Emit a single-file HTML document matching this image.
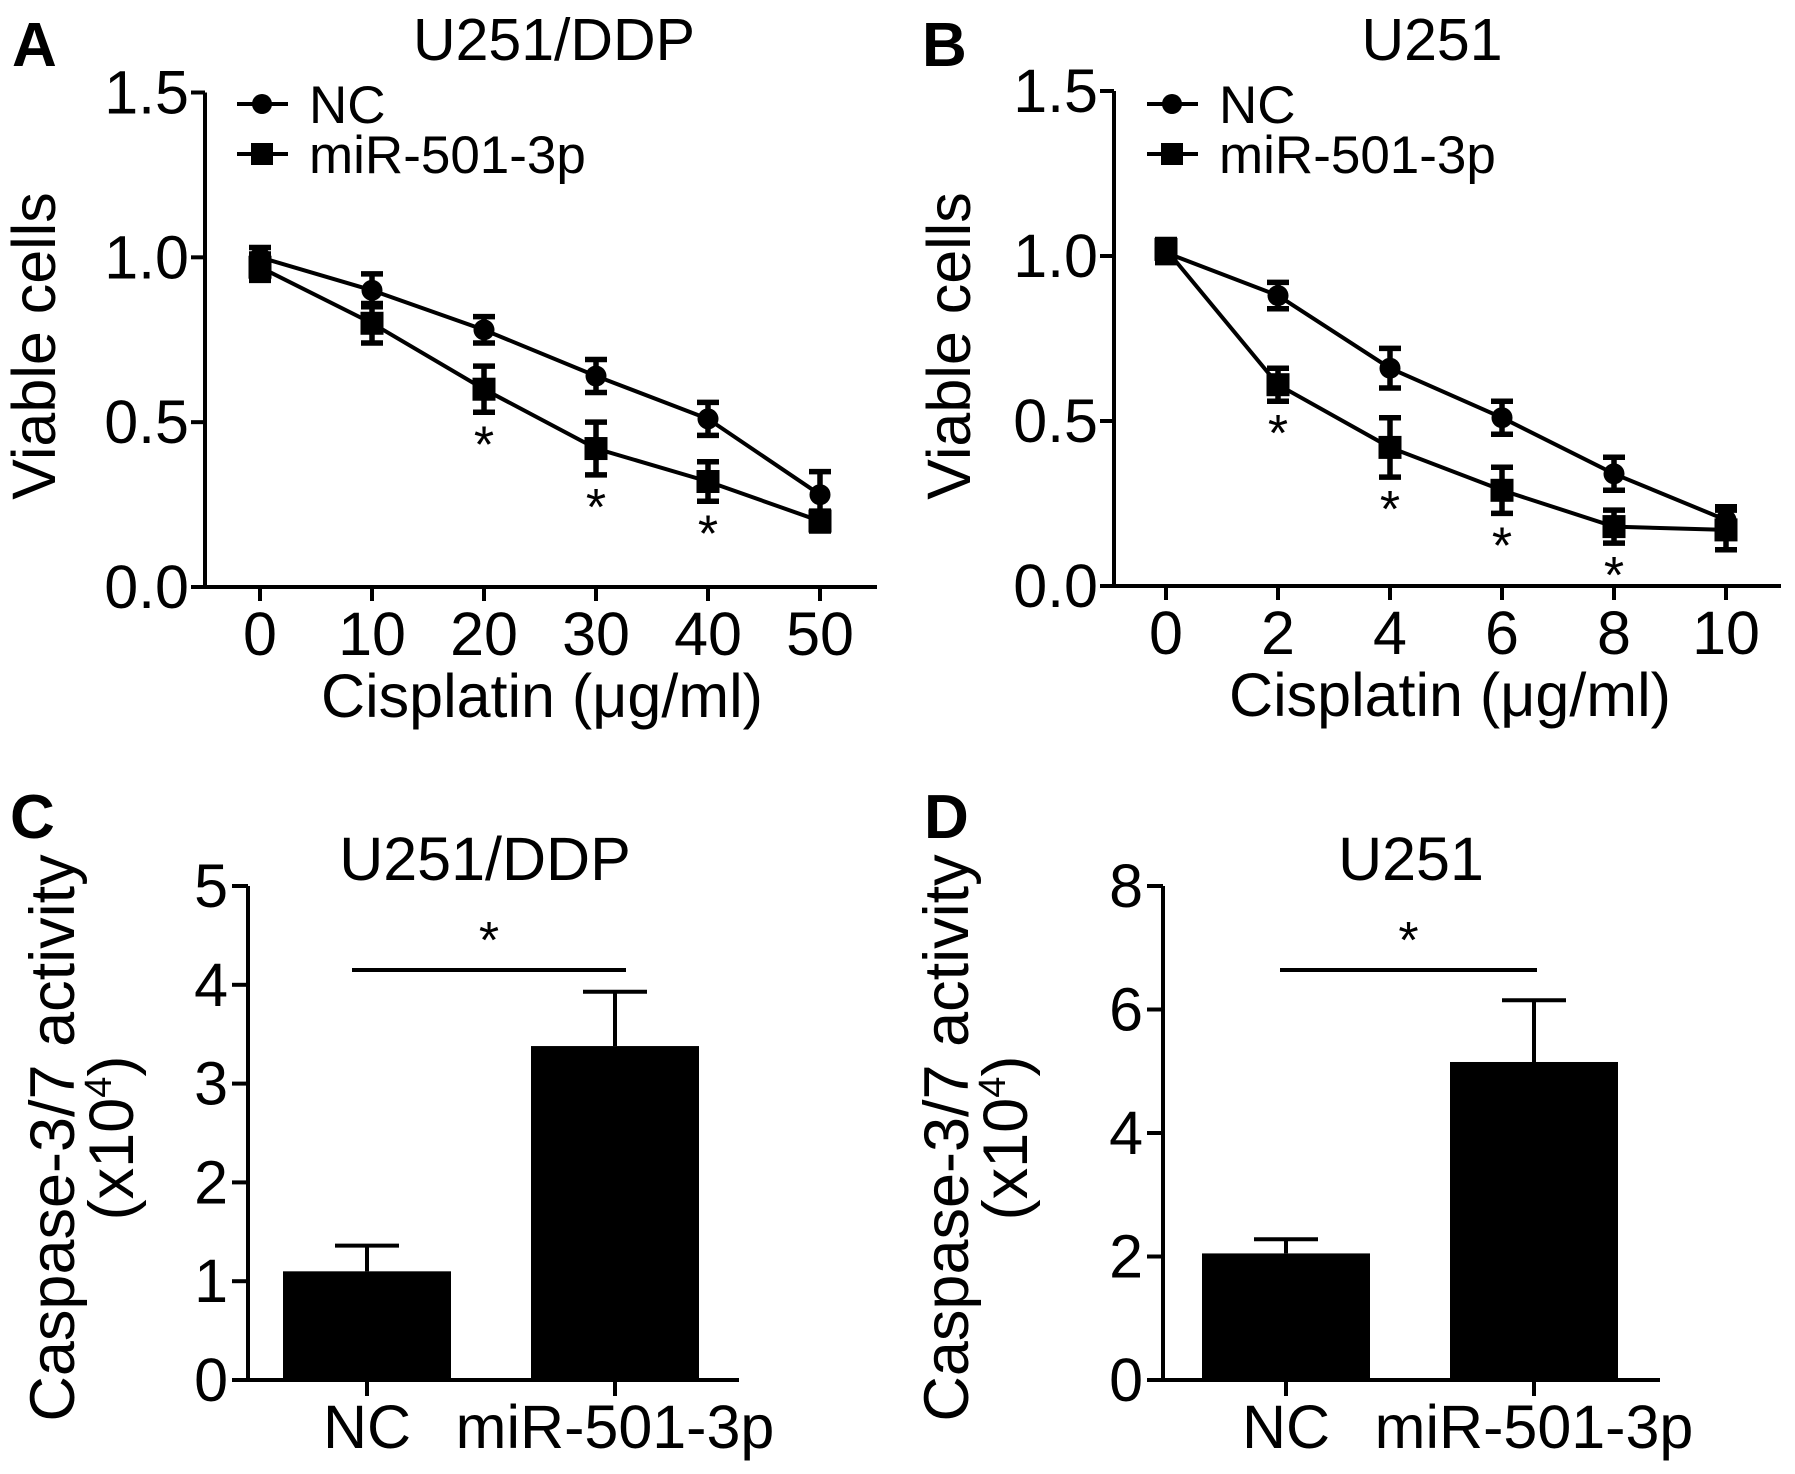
<!DOCTYPE html>
<html><head><meta charset="utf-8"><style>
html,body{margin:0;padding:0;background:#fff;}
svg{display:block;font-family:"Liberation Sans",Arial,sans-serif;}
text{fill:#000;}
</style></head><body>
<svg id="fig" width="1795" height="1474" viewBox="0 0 1795 1474" xmlns="http://www.w3.org/2000/svg"></svg>
<script>
// Panel A data
const aDoses = [0, 10, 20, 30, 40, 50];
const aNC = [1.00, 0.90, 0.78, 0.64, 0.51, 0.28];
const aNCErr = [0.03, 0.05, 0.04, 0.05, 0.05, 0.07];
const aMiR = [0.97, 0.80, 0.60, 0.42, 0.32, 0.20];
const aMiRErr = [0.04, 0.06, 0.07, 0.08, 0.06, 0.03];
const aStars = [false, false, true, true, true, false];
// Panel B data
const bDoses = [0, 2, 4, 6, 8, 10];
const bNC = [1.01, 0.88, 0.66, 0.51, 0.34, 0.20];
const bNCErr = [0.03, 0.04, 0.06, 0.05, 0.05, 0.04];
const bMiR = [1.02, 0.61, 0.42, 0.29, 0.18, 0.17];
const bMiRErr = [0.03, 0.05, 0.09, 0.07, 0.05, 0.06];
const bStars = [false, true, true, true, true, false];
const lineYTicks = [0.0, 0.5, 1.0, 1.5];
// Panel C data
const barCats = ["NC", "miR-501-3p"];
const cVals = [1.10, 3.38];
const cErr = [0.26, 0.55];
const cTicks = [0, 1, 2, 3, 4, 5];
// Panel D data
const dVals = [2.05, 5.15];
const dErr = [0.23, 1.00];
const dTicks = [0, 2, 4, 6, 8];

const NS = "http://www.w3.org/2000/svg";
const svg = document.getElementById("fig");
function el(tag, attrs, parent, txt) {
  const e = document.createElementNS(NS, tag);
  for (const k in attrs) e.setAttribute(k, attrs[k]);
  if (txt !== undefined) e.textContent = txt;
  (parent || svg).appendChild(e);
  return e;
}
function group(name) {
  const g = el("g", {});
  
  
  return g;
}
const FS = 59;
const SW = 4;

function linePanel(o) {
  const g = group(o.name);
  const X = v => o.x0 + (v - o.dmin) / (o.dmax - o.dmin) * (o.x1 - o.x0);
  const Y = v => o.y0 - v / 1.5 * (o.y0 - o.yTop);
  const lt = el("text", {x: o.letterX, y: 66, "font-size": 62, "font-weight": "bold"}, g, o.letter);
  
  
  const tt = el("text", {x: o.titleX, y: 60, "font-size": FS, "text-anchor": "middle"}, g, o.title);
  
  
  const ya = el("line", {x1: o.ax, y1: Y(1.5), x2: o.ax, y2: o.y0 + 2, stroke: "#000", "stroke-width": SW}, g);
  
  
  const xa = el("line", {x1: o.ax - 14, y1: o.y0, x2: o.xEnd, y2: o.y0, stroke: "#000", "stroke-width": SW}, g);
  
  
  lineYTicks.forEach(t => {
    el("line", {x1: o.ax - 14, y1: Y(t), x2: o.ax, y2: Y(t), stroke: "#000", "stroke-width": SW}, g);
    const tl = el("text", {x: o.ax - 16, y: Y(t) + 21, "font-size": FS + 2, "text-anchor": "end"}, g, t.toFixed(1));
    
    
  });
  o.doses.forEach(d => {
    el("line", {x1: X(d), y1: o.y0, x2: X(d), y2: o.y0 + 14, stroke: "#000", "stroke-width": SW}, g);
    const tl = el("text", {x: X(d), y: o.y0 + 68, "font-size": FS + 2, "text-anchor": "middle"}, g, String(d));
    
    
  });
  const xt = el("text", {x: o.xTitleX, y: o.y0 + 130, "font-size": FS + 2, "text-anchor": "middle"}, g, "Cisplatin (\u03bcg/ml)");
  
  
  const yt = el("text", {x: 0, y: 0, "font-size": FS + 2, "text-anchor": "middle", transform: `translate(${o.yTitleX},346) rotate(-90)`}, g, "Viable cells");
  
  
  const series = [
    {vals: o.nc, err: o.ncErr, shape: "circle", name: "nc-series"},
    {vals: o.mir, err: o.mirErr, shape: "square", name: "mir-501-3p-series"}
  ];
  series.forEach(s => {
    const sg = el("g", {}, g);
    
    
    const pts = o.doses.map((d, i) => X(d) + "," + Y(s.vals[i])).join(" ");
    el("polyline", {points: pts, fill: "none", stroke: "#000", "stroke-width": SW}, sg);
    o.doses.forEach((d, i) => {
      const cx = X(d), cy = Y(s.vals[i]);
      const hi = Y(s.vals[i] + s.err[i]), lo = Y(s.vals[i] - s.err[i]);
      el("path", {d: `M${cx},${hi}V${lo}M${cx - 11},${hi}H${cx + 11}M${cx - 11},${lo}H${cx + 11}`, stroke: "#000", "stroke-width": 5.5, fill: "none"}, sg);
      let m;
      if (s.shape === "circle") m = el("circle", {cx: cx, cy: cy, r: 10.5}, sg);
      else m = el("rect", {x: cx - 11.5, y: cy - 11.5, width: 23, height: 23}, sg);
      
      
    });
  });
  o.stars.forEach((st, i) => {
    if (!st) return;
    const lo = Y(o.mir[i] - o.mirErr[i]);
    const s = el("text", {x: X(o.doses[i]), y: lo + 50, "font-size": 52, "text-anchor": "middle"}, g, "*");
    
    
  });
  const lg = el("g", {}, g);
  
  
  const lx = o.legendX;
  el("line", {x1: lx - 25, y1: 104, x2: lx + 26, y2: 104, stroke: "#000", "stroke-width": SW}, lg);
  el("circle", {cx: lx, cy: 104, r: 10}, lg);
  const l1 = el("text", {x: lx + 47, y: 123, "font-size": 53}, lg, "NC");
  
  
  el("line", {x1: lx - 25, y1: 154, x2: lx + 26, y2: 154, stroke: "#000", "stroke-width": SW}, lg);
  el("rect", {x: lx - 11, y: 143, width: 22, height: 22}, lg);
  const l2 = el("text", {x: lx + 47, y: 173, "font-size": 53}, lg, "miR-501-3p");
  
  
}

function barPanel(o) {
  const g = group(o.name);
  const Y = v => o.y0 - v / o.vmax * (o.y0 - o.yTop);
  const lt = el("text", {x: o.letterX, y: 838, "font-size": 62, "font-weight": "bold"}, g, o.letter);
  
  
  const tt = el("text", {x: o.titleX, y: 880, "font-size": FS + 2, "text-anchor": "middle"}, g, o.title);
  
  
  const ya = el("line", {x1: o.ax, y1: o.yTop, x2: o.ax, y2: o.y0 + 2, stroke: "#000", "stroke-width": SW}, g);
  
  
  const xa = el("line", {x1: o.ax - 16, y1: o.y0, x2: o.xEnd, y2: o.y0, stroke: "#000", "stroke-width": SW}, g);
  
  
  o.ticks.forEach(t => {
    el("line", {x1: o.ax - 16, y1: Y(t), x2: o.ax, y2: Y(t), stroke: "#000", "stroke-width": SW}, g);
    const tl = el("text", {x: o.ax - 20, y: Y(t) + 21, "font-size": FS + 2, "text-anchor": "end"}, g, String(t));
    
    
  });
  const yt = el("text", {x: 0, y: 0, "font-size": 63, "text-anchor": "middle", transform: `translate(${o.yt1},1138) rotate(-90)`}, g, "Caspase-3/7 activity");
  
  
  const yt2 = el("text", {x: 0, y: 0, "font-size": 63, "text-anchor": "middle", transform: `translate(${o.yt2},1138) rotate(-90)`}, g);
  
  
  el("tspan", {}, yt2, "(x10");
  el("tspan", {"font-size": 38, dy: -22}, yt2, "4");
  el("tspan", {dy: 22}, yt2, ")");
  o.vals.forEach((v, i) => {
    const cx = o.centers[i];
    const top = Y(v), et = Y(v + o.err[i]);
    el("path", {d: `M${cx},${top}V${et}M${cx - 32},${et}H${cx + 32}`, stroke: "#000", "stroke-width": SW, fill: "none"}, g);
    const r = el("rect", {x: cx - 84, y: top, width: 168, height: o.y0 - top, fill: "#000"}, g);
    
    
    el("line", {x1: cx, y1: o.y0, x2: cx, y2: o.y0 + 16, stroke: "#000", "stroke-width": SW}, g);
    const xl = el("text", {x: cx, y: 1448, "font-size": FS + 2, "text-anchor": "middle"}, g, barCats[i]);
    
    
  });
  const sl = el("line", {x1: o.sigX1, y1: 970, x2: o.sigX2, y2: 970, stroke: "#000", "stroke-width": SW}, g);
  
  
  const st = el("text", {x: (o.sigX1 + o.sigX2) / 2, y: 958, "font-size": 52, "text-anchor": "middle"}, g, "*");
  
  
}

linePanel({name: "panel-a", letter: "A", letterX: 12, title: "U251/DDP", titleX: 554,
  ax: 205, x0: 260, x1: 820, xEnd: 877, y0: 587, yTop: 92.5, dmin: 0, dmax: 50,
  doses: aDoses, nc: aNC, ncErr: aNCErr, mir: aMiR, mirErr: aMiRErr, stars: aStars,
  xTitleX: 542, yTitleX: 55, legendX: 262});
linePanel({name: "panel-b", letter: "B", letterX: 922, title: "U251", titleX: 1432,
  ax: 1114, x0: 1166, x1: 1726, xEnd: 1781, y0: 586, yTop: 91, dmin: 0, dmax: 10,
  doses: bDoses, nc: bNC, ncErr: bNCErr, mir: bMiR, mirErr: bMiRErr, stars: bStars,
  xTitleX: 1450, yTitleX: 970, legendX: 1172});
barPanel({name: "panel-c", letter: "C", letterX: 10, title: "U251/DDP", titleX: 485,
  ax: 248, xEnd: 739, y0: 1380, yTop: 886, vmax: 5, ticks: cTicks, vals: cVals, err: cErr,
  centers: [367, 615], sigX1: 352, sigX2: 626, yt1: 74, yt2: 133});
barPanel({name: "panel-d", letter: "D", letterX: 924, title: "U251", titleX: 1411,
  ax: 1163, xEnd: 1660, y0: 1380, yTop: 886, vmax: 8, ticks: dTicks, vals: dVals, err: dErr,
  centers: [1286, 1534], sigX1: 1280, sigX2: 1537, yt1: 968, yt2: 1027});
</script>
</body></html>
